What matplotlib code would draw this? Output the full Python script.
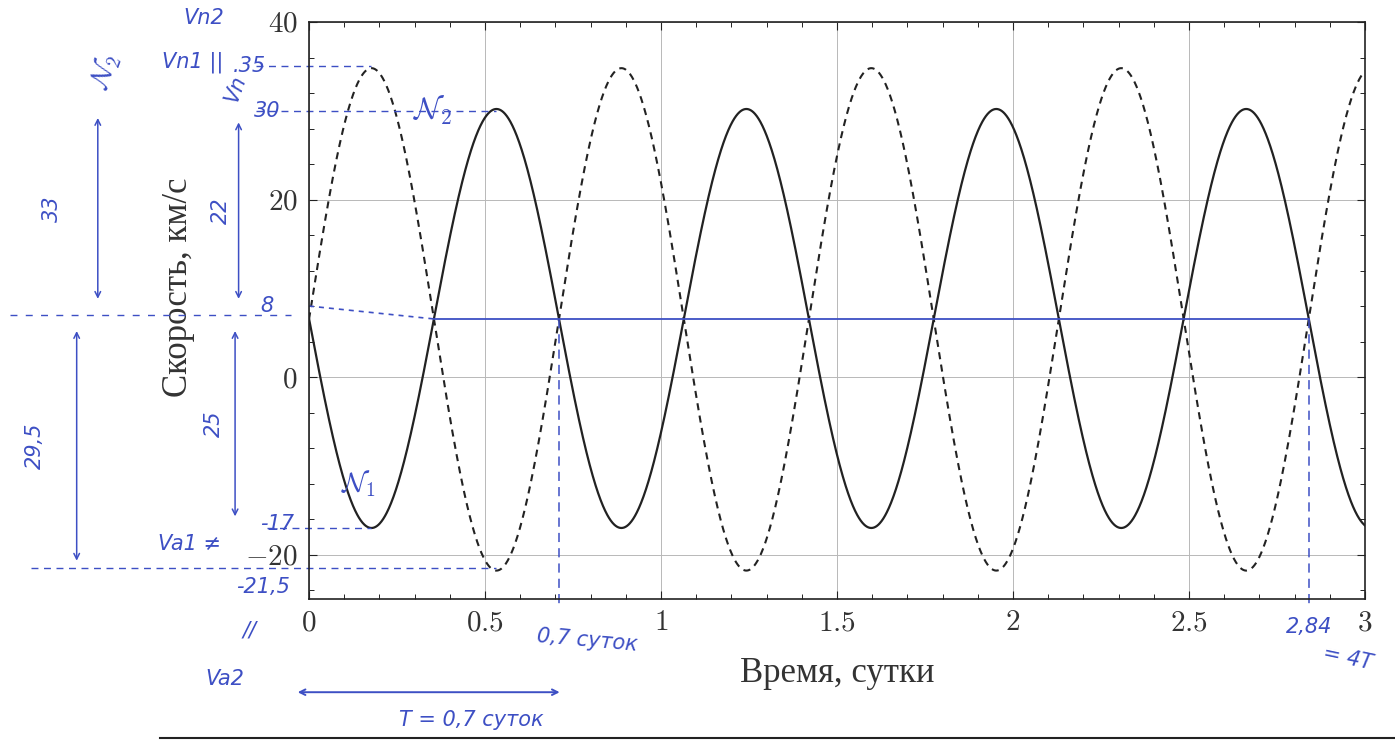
import numpy as np
import matplotlib
matplotlib.use("Agg")
import matplotlib.pyplot as plt
from matplotlib.ticker import MultipleLocator

# ---------- values ----------
period   = 0.71          # сутки
v1_max, v1_min = 30.2, -17.0    # solid curve (N1)
v2_max, v2_min = 34.8, -21.8    # dashed curve (N2)
x_ticks  = [0, 0.5, 1, 1.5, 2, 2.5, 3]
x_labels = ["0", "0.5", "1", "1.5", "2", "2.5", "3"]
y_ticks  = [-20, 0, 20, 40]
y_labels = ["-20", "0", "20", "40"]
# hand-written levels marked on the scan
lvl_marks = [35, 30, 8, -17, -21.5]

plt.rcParams["mathtext.fontset"] = "cm"
plt.rcParams["font.family"] = ["Liberation Serif", "DejaVu Serif"]

INK = "#3d4fc4"
FS = 21

g1 = (v1_max + v1_min) / 2; k1 = (v1_max - v1_min) / 2
g2 = (v2_max + v2_min) / 2; k2 = (v2_max - v2_min) / 2
gamma = (g1 + g2) / 2

t = np.linspace(0, 3, 3000)
ph = np.sin(2 * np.pi * t / period)
v1 = g1 - k1 * ph
v2 = g2 + k2 * ph

fig = plt.figure(figsize=(13.95, 7.42), dpi=100)
ax = fig.add_axes([309 / 1395, 1 - 599 / 742, 1056 / 1395, 577 / 742])

ax.plot(t, v1, color="#222222", lw=1.6)
ax.plot(t, v2, color="#222222", lw=1.5, dashes=(3.4, 2.6))

ax.set_xlim(0, 3); ax.set_ylim(-25, 40)
ax.set_xticks(x_ticks); ax.set_xticklabels([f"${s}$" for s in x_labels], fontsize=FS)
ax.set_yticks(y_ticks); ax.set_yticklabels([f"${s}$" for s in y_labels], fontsize=FS)
ax.xaxis.set_minor_locator(MultipleLocator(0.1))
ax.yaxis.set_minor_locator(MultipleLocator(4))
ax.tick_params(which="both", direction="in", top=True, right=True, colors="#222222")
ax.tick_params(which="major", length=6, width=0.8, pad=8)
ax.tick_params(which="minor", length=3.5, width=0.7)
ax.tick_params(axis="both", labelcolor="#333333")
ax.grid(True, which="major", color="#b8b8b8", lw=0.7)
for s in ax.spines.values():
    s.set_linewidth(1.2); s.set_color("#222222")

ax.set_xlabel("Время, сутки", fontsize=25, color="#333333")
ax.set_ylabel("Скорость, км/с", fontsize=25, color="#333333")
ax.xaxis.set_label_coords(0.5, -0.10)
ax.yaxis.set_label_coords(-0.108, 0.54)

# ---------- hand-written blue annotations ----------
ax.plot([0, period / 2], [8, gamma], color=INK, lw=1.2, ls=(0, (3, 3)), clip_on=False)
ax.plot([period / 2, 4 * period], [gamma, gamma], color=INK, lw=1.3)
for tc in (period, 4 * period):
    ax.plot([tc, tc], [gamma, -26], color=INK, lw=1.1, ls=(0, (6, 4)), clip_on=False)

# level guides to the extrema
ax.plot([-0.15, period / 4], [35, 35], color=INK, lw=1, ls=(0, (5, 4)), clip_on=False)
ax.plot([-0.15, 3 * period / 4], [30, 30], color=INK, lw=1, ls=(0, (5, 4)), clip_on=False)
ax.plot([-0.12, period / 4], [-17, -17], color=INK, lw=1, ls=(0, (5, 4)), clip_on=False)
ax.plot([-0.79, 3 * period / 4], [-21.5, -21.5], color=INK, lw=1, ls=(0, (5, 4)), clip_on=False)
ax.plot([-0.85, -0.05], [7.0, 7.0], color=INK, lw=1, ls=(0, (5, 6)), clip_on=False)

hand = dict(color=INK, fontsize=15, family="DejaVu Sans", style="italic", clip_on=False)
for v, s, dx, dy in zip(lvl_marks, [".35", "30", "8", "-17", "-21,5"],
                        [-0.17, -0.12, -0.12, -0.09, -0.13],
                        [0, 0, 0, 0.5, -2.2]):
    ax.text(dx, v + dy, s, ha="center", va="center", **hand)

ax.text(0.35, 30, "$\\mathcal{N}_2$", color=INK, fontsize=22, ha="center", va="center")
ax.text(0.14, -12, "$\\mathcal{N}_1$", color=INK, fontsize=20, ha="center", va="center")
ax.text(0.79, -28.0, "0,7 суток", ha="center", va="top", rotation=-5, **hand)
ax.text(2.84, -27.0, "2,84", ha="center", va="top", **hand)
ax.text(2.95, -30.0, "= 4T", ha="center", va="top", rotation=-12, **hand)

# period arrow under the axis
ax.annotate("", xy=(-0.04, -35.5), xytext=(0.72, -35.5), xycoords="data",
            arrowprops=dict(arrowstyle="<->", color=INK, lw=1.4), annotation_clip=False)
ax.text(0.46, -37.5, "T = 0,7 суток", ha="center", va="top", **hand)

# left-hand amplitude arrows
for x0, ya, yb, lab, xl in [(-0.60, 29.5, 8.5, "33", -0.73),
                            (-0.66, 5.5, -21.0, "29,5", -0.78),
                            (-0.20, 29.0, 8.5, "22", -0.25),
                            (-0.21, 5.5, -16.0, "25", -0.27)]:
    ax.annotate("", xy=(x0, ya), xytext=(x0, yb), xycoords="data",
                arrowprops=dict(arrowstyle="<->", color=INK, lw=1.1), annotation_clip=False)
    ax.text(xl, (ya + yb) / 2, lab, rotation=90, ha="center", va="center", **hand)

ax.text(-0.58, 34.5, "$\\mathcal{N}_2$", color=INK, fontsize=20, rotation=70, ha="center", va="center", clip_on=False)
ax.text(-0.30, 40.5, "Vn2", ha="center", va="center", **hand)
ax.text(-0.33, 35.5, "Vn1 ||", ha="center", va="center", **hand)
ax.text(-0.21, 32.5, "Vn", rotation=70, ha="center", va="center", **hand)
ax.text(-0.34, -18.8, "Va1 ≠", ha="center", va="center", **hand)
ax.text(-0.24, -34.0, "Va2", ha="center", va="center", **hand)
ax.text(-0.17, -28.5, "//", ha="center", va="center", **hand)

# page rule at the bottom of the scan
fig.add_artist(plt.Line2D([160 / 1395, 1], [1 - 738 / 742] * 2, color="#222222", lw=1.5))

fig.savefig("out.png", dpi=100)
